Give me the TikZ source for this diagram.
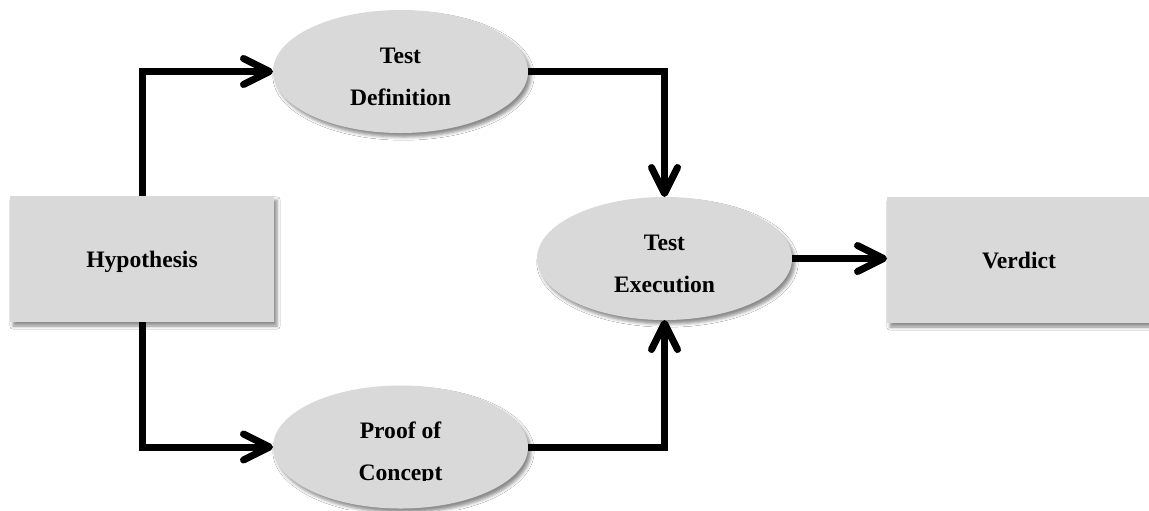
\documentclass[tikz,border=0pt]{standalone}
\usepackage{fontspec}
\setmainfont{Liberation Serif}
\usetikzlibrary{arrows.meta,shapes.geometric,shadows.blur}
\definecolor{boxgray}{HTML}{D9D9D9}
\tikzset{
  softshadow/.style={blur shadow={shadow xshift=1.5pt, shadow yshift=-2pt,
      shadow blur radius=1.6pt, shadow opacity=45}},
  caption/.style={font=\bfseries\fontsize{11.8}{21}\selectfont, align=center,
      inner sep=0pt, outer sep=0pt},
  stepbox/.style={rectangle, fill=boxgray, minimum width=132pt,
      minimum height=63pt, inner sep=0pt, outer sep=0pt, softshadow,
      caption, text depth=0pt},
  stage/.style={ellipse, fill=boxgray, minimum width=127.5pt,
      minimum height=61.5pt, inner sep=0pt, outer sep=0pt, softshadow},
  flow/.style={line width=3.5pt, line join=miter,
      -{Straight Barb[length=13pt, width=13pt, line cap=round, line join=round]}}
}
\begin{document}
\begin{tikzpicture}[x=0.5pt, y=-0.5pt]
  \clip (0,0) rectangle (1149,510);
  \fill[white] (0,0) rectangle (1149,510);

  % boxes
  \node[stepbox] (hyp) at (142,259) {Hypothesis};
  \node[stepbox] (verdict) at (1019,260) {Verdict};

  % ellipses
  \node[stage] (td) at (400.5,71.5) {};
  \node[stage] (te) at (664.5,258.5) {};
  \node[stage] (poc) at (400.5,447) {};

  \node[caption] (tdtext) at ([yshift=-2.6pt]td.center) {Test\\Definition};
  \node[caption] (tetext) at ([yshift=-2.6pt]te.center) {Test\\Execution};
  \begin{scope}
    \clip (300,380) rectangle (500,480);
    \node[caption] (poctext) at ([yshift=-3.5pt]poc.center) {Proof of\\Concept};
  \end{scope}

  % connectors
  \draw[flow] (hyp.north) |- (td.west);
  \draw[flow] (hyp.south) |- (poc.west);
  \draw[flow] (td.east) -| (te.north);
  \draw[flow] (poc.east) -| (te.south);
  \draw[flow] (te.east) -- (te.east -| verdict.west);
\end{tikzpicture}
\end{document}
